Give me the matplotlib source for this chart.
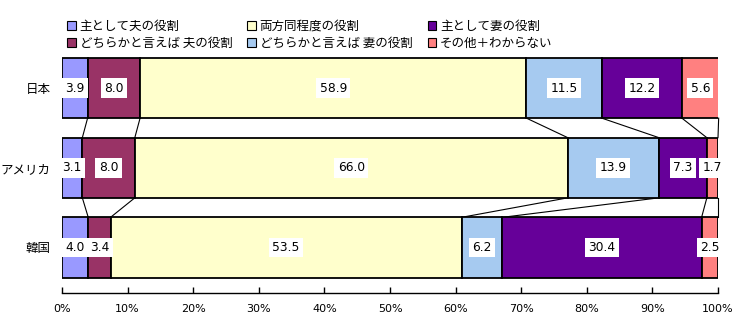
import matplotlib
matplotlib.use("Agg")
import matplotlib.pyplot as plt
import numpy as np
from matplotlib.patches import Patch

plt.rcParams['font.family'] = ['Noto Sans CJK JP', 'DejaVu Sans']

countries = ['日本', 'アメリカ', '韓国']
series_names = ['主として夫の役割', 'どちらかと言えば夫の役割', '両方同程度の役割',
                'どちらかと言えば妻の役割', '主として妻の役割', 'その他＋わからない']
legend_labels = ['主として夫の役割', 'どちらかと言えば 夫の役割', '両方同程度の役割',
                 'どちらかと言えば 妻の役割', '主として妻の役割', 'その他＋わからない']
husband_main = [3.9, 3.1, 4.0]
husband_rather = [8.0, 8.0, 3.4]
both_equal = [58.9, 66.0, 53.5]
wife_rather = [11.5, 13.9, 6.2]
wife_main = [12.2, 7.3, 30.4]
other = [5.6, 1.7, 2.5]
xticks = [0, 10, 20, 30, 40, 50, 60, 70, 80, 90, 100]
xtick_labels = ['0%', '10%', '20%', '30%', '40%', '50%', '60%', '70%', '80%', '90%', '100%']

colors = ['#9999FF', '#993366', '#FFFFCC', '#A6CAF0', '#660099', '#FF8080']

data = np.array([husband_main, husband_rather, both_equal, wife_rather, wife_main, other])

W, H = 740, 330
fig = plt.figure(figsize=(W/100, H/100), dpi=100)
ax = fig.add_axes([62/W, (H-293)/H, 656/W, (293-50)/H])

y = np.arange(len(countries))
bh = 0.755
left = np.zeros(len(countries))
for i in range(len(series_names)):
    vals = data[i]
    ax.barh(y, vals, left=left, height=bh, color=colors[i], edgecolor='black',
            linewidth=1.3, label=legend_labels[i], zorder=2)
    for j in range(len(countries)):
        ax.text(left[j] + vals[j]/2, y[j], f'{vals[j]:.1f}', ha='center', va='center',
                fontsize=8.8, family=['DejaVu Sans'],
                bbox=dict(facecolor='white', edgecolor='none', pad=2.5), zorder=4)
    left = left + vals

# series lines
cum = np.cumsum(data, axis=0)
for i in range(len(series_names)):
    for j in range(len(countries)-1):
        ax.plot([cum[i, j], cum[i, j+1]], [y[j] + bh/2, y[j+1] - bh/2],
                color='black', linewidth=0.8, zorder=1, clip_on=False)

ax.set_xlim(0, 100)
ax.set_ylim(2 + 0.572, -0.478)
ax.set_yticks(y)
ax.set_yticklabels(countries, fontsize=9)
ax.tick_params(axis='y', length=0, pad=8)
ax.set_xticks(xticks)
ax.set_xticklabels(xtick_labels, fontsize=8, family=['DejaVu Sans'])
ax.tick_params(axis='x', direction='in', length=4, width=1, pad=8)
for s in ['top', 'right', 'left']:
    ax.spines[s].set_visible(False)
ax.spines['bottom'].set_linewidth(1)

handles = [Patch(facecolor=colors[i], edgecolor='black', linewidth=0.8) for i in range(6)]
fig.legend(handles, legend_labels, ncol=3, loc='upper left',
           bbox_to_anchor=(62/W, 1 - 15/H), frameon=False, fontsize=9,
           handlelength=0.7, handleheight=0.7, handletextpad=0.3,
           columnspacing=1.2, labelspacing=0.3, borderaxespad=0)

fig.savefig('out.png', dpi=100)
